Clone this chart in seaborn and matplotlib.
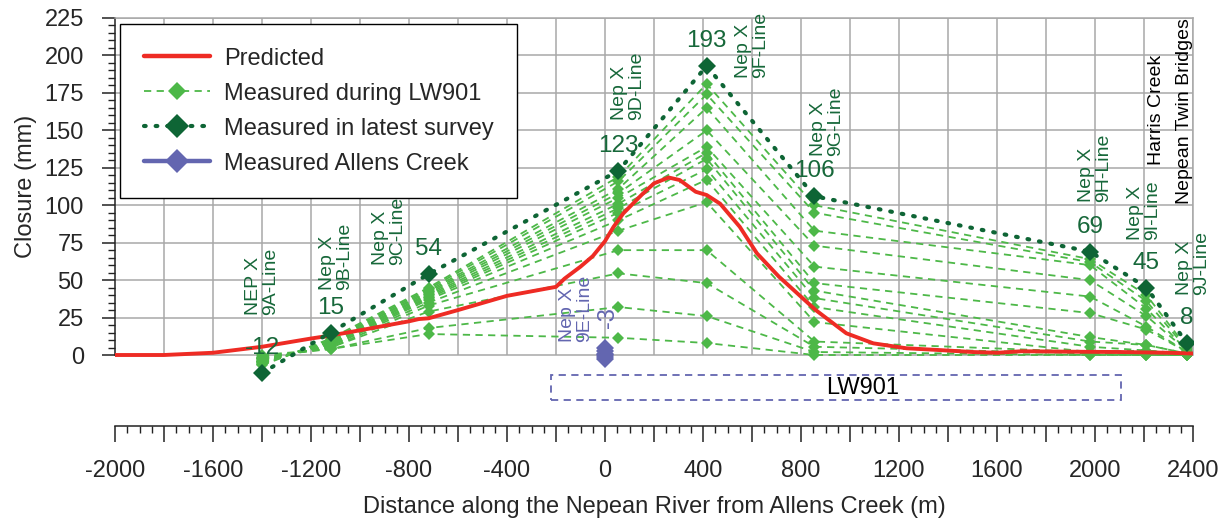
import matplotlib.pyplot as plt
import matplotlib.patches as mpatches
from matplotlib.lines import Line2D
import numpy as np
import pandas as pd
import seaborn as sns

# Survey stations along the Nepean River (m from Allens Creek)
stations = ['9A', '9B', '9C', '9D', '9F', '9G', '9H', '9I', '9J']
station_x = [-1400, -1120, -720, 55, 415, 855, 1980, 2210, 2375]

# Closure in the latest survey (mm)
latest = [-12, 15, 54, 123, 193, 106, 69, 45, 8]

# Closure measured during LW901, one row per survey (columns follow stations)
lw901_surveys = [
    [0, 4, 14, 11.5, 8, 0, 0, 0, 0],
    [-1, 4, 18, 32, 26, 2, 0, 0, 0],
    [-2, 5, 29, 54.5, 48, 5.5, 1, 0, 0],
    [-2, 5, 33, 70, 70, 9, 2, 1, 0],
    [-3, 6, 35, 83, 102, 22, 2, 3, 0],
    [-3, 6, 37, 90, 117, 32, 5.5, 3, 1],
    [-4, 7, 38, 95, 124, 38, 9, 6.7, 1],
    [-4, 7, 39, 98, 131, 43, 12, 6.7, 1],
    [-5, 8, 40, 101, 135, 48, 28, 17, 2],
    [-5, 8, 41, 105, 139, 59, 39, 19, 2],
    [-5, 9, 42, 108, 150, 73, 50, 26, 3],
    [-6, 9, 43, 111, 165, 83, 60, 31, 3],
    [-6, 10, 44, 116, 174, 95, 62, 36, 4],
    [-7, 11, 45, 119, 181, 100, 64, 40, 5],
]

# Allens Creek measurements
allens_x = [0, 0, 0, 0, 0, 0]
allens_y = [5, 3, 1, 0, -1, -3]

# Predicted closure profile
pred_x = [-2000, -1800, -1600, -1400, -1200, -1120, -1000, -800, -760, -720, -600,
          -400, -200, -165, -100, -50, 0, 35, 75, 150, 200, 260, 305, 370, 415,
          470, 550, 620, 710, 860, 985, 1095, 1230, 1365, 1500, 1600, 1700, 1900,
          2100, 2300, 2400]
pred_y = [0, 0, 1.5, 5.5, 11, 13, 16.5, 22.5, 24, 24.5, 30,
          39.5, 45.5, 51, 59, 66, 76, 85.6, 94.6, 107, 114.6, 118.5, 116.8, 109, 106.8,
          101, 85.6, 67.9, 52.3, 30, 14.5, 7.8, 4.5, 3.3, 2, 1.5, 2.5, 2.2,
          2, 1.5, 1]

# Station annotation texts
station_text = ['NEP X\n9A-Line', 'Nep X\n9B-Line', 'Nep X\n9C-Line', 'Nep X\n9D-Line',
                'Nep X\n9F-Line', 'Nep X\n9G-Line', 'Nep X\n9H-Line', 'Nep X\n9I-Line',
                'Nep X\n9J-Line']
station_text_pos = [(-1400, 26.7), (-1098, 43.4), (-882, 60), (94, 157), (600, 185),
                    (906, 133), (2000, 102), (2200, 77), (2400, 40)]

RED = '#EE2B24'
LIGHT = '#4DB848'
DARK = '#0E6535'
PURPLE = '#6366B0'
TXT_GREEN = '#17683A'
GRID = '#A8A8A8'

sns.set_style('white')
plt.rcParams['font.family'] = ['Liberation Sans', 'DejaVu Sans']

fig = plt.figure(figsize=(12.28, 5.22), dpi=100)
ax = fig.add_axes([115 / 1228, 96 / 522, 1078 / 1228, 408 / 522])
ax.set_xlim(-2000, 2400)
ax.set_ylim(-47.4, 225)

# grid only inside the 0..225 band
ax.hlines(np.arange(0, 226, 25), -2000, 2400, color=GRID, lw=1.1, zorder=0)
ax.vlines(np.arange(-1800, 2401, 200), 0, 225, color=GRID, lw=1.1, zorder=0)

# measured during LW901
rows = []
for i, vals in enumerate(lw901_surveys):
    for sx, v in zip(station_x, vals):
        rows.append({'survey': i, 'distance': sx, 'closure': v})
df_lw = pd.DataFrame(rows)
sns.lineplot(data=df_lw, x='distance', y='closure', units='survey', estimator=None,
             sort=False, color=LIGHT, lw=1.3, linestyle=(0, (4, 3)), marker='D',
             markersize=6.5, markeredgewidth=0, legend=False, ax=ax, zorder=2)

# predicted
sns.lineplot(x=pred_x, y=pred_y, color=RED, lw=2.8, sort=False, estimator=None,
             ax=ax, zorder=3)

# latest survey
sns.lineplot(x=station_x, y=latest, color=DARK, lw=3, sort=False, estimator=None,
             linestyle=(0, (0.4, 2.4)), dash_capstyle='round', marker='D',
             markersize=9.5, markeredgewidth=0, ax=ax, zorder=4)

# Allens Creek
sns.lineplot(x=allens_x, y=allens_y, color=PURPLE, lw=3, sort=False, estimator=None,
             marker='D', markersize=9, markeredgewidth=0, ax=ax, zorder=4)

# value labels for the latest survey
for sx, v in zip(station_x, latest):
    ax.annotate(f'{v:g}', (sx, v), xytext=(0, 18), textcoords='offset points',
                ha='center', va='center', fontsize=17.5, color=TXT_GREEN, zorder=6)
ax.annotate(f'{allens_y[-1]:g}', (allens_x[-1], allens_y[-1]), xytext=(2, 30),
            textcoords='offset points', rotation=90, ha='center', va='center',
            fontsize=17, color=PURPLE, zorder=6)

# station labels
for txt, (tx, ty) in zip(station_text, station_text_pos):
    ax.text(tx, ty, txt, rotation=90, ha='center', va='bottom', multialignment='left',
            linespacing=1.0, fontsize=14, color=TXT_GREEN, zorder=6)
ax.text(-118, 8.7, 'Nep X\n9E-Line', rotation=90, ha='center', va='bottom',
        multialignment='left', linespacing=1.0, fontsize=14, color=PURPLE, zorder=6)
ax.text(2253, 127, 'Harris Creek', rotation=90, ha='center', va='bottom',
        fontsize=14, color='black', zorder=6)
ax.text(2367, 101, 'Nepean Twin Bridges', rotation=90, ha='center', va='bottom',
        fontsize=14, color='black', zorder=6)

# LW901 panel extent
ax.add_patch(mpatches.Rectangle((-220, -30), 2325, 16.6, fill=False, edgecolor=PURPLE,
                                lw=1.3, linestyle=(0, (4, 3)), zorder=1))
ax.text(1050, -22, 'LW901', ha='center', va='center', fontsize=17, color='black')

# axes styling
ax.spines['left'].set_bounds(0, 225)
ax.spines['right'].set_bounds(0, 225)
ax.spines['right'].set_color(GRID)
ax.spines['top'].set_color(GRID)
ax.spines['left'].set_color('#222222')
ax.spines['bottom'].set_color('#222222')
for s in ax.spines.values():
    s.set_linewidth(1.1)

ax.set_yticks(np.arange(0, 226, 25))
ax.set_yticks(np.arange(0, 226, 5), minor=True)
xt = np.arange(-2000, 2401, 200)
ax.set_xticks(xt)
ax.set_xticklabels([f'{v:d}' if v % 400 == 0 else '' for v in xt])
ax.set_xticks(np.arange(-2000, 2401, 50), minor=True)
ax.tick_params(axis='both', which='major', direction='out', labelsize=17, pad=13,
               color='#222222', width=1.1)
ax.tick_params(axis='y', which='major', length=9.5)
ax.tick_params(axis='x', which='major', length=11.5)
ax.tick_params(axis='both', which='minor', direction='out', length=5, width=1,
               color='#222222')
ax.tick_params(left=True, bottom=True, which='both')

ax.set_xlabel('Distance along the Nepean River from Allens Creek (m)', fontsize=17,
              labelpad=10)
ax.set_ylabel('Closure (mm)', fontsize=17)
ax.yaxis.set_label_coords(-0.072, 0.588)

# legend
handles = [
    Line2D([], [], color=RED, lw=3.2),
    Line2D([], [], color=LIGHT, lw=1.3, linestyle=(0, (4, 3)), marker='D',
           markersize=9, markeredgewidth=0),
    Line2D([], [], color=DARK, lw=3, linestyle=(0, (0.4, 2.4)), dash_capstyle='round',
           marker='D', markersize=12, markeredgewidth=0),
    Line2D([], [], color=PURPLE, lw=3.2, marker='D', markersize=12, markeredgewidth=0),
]
labels = ['Predicted', 'Measured during LW901', 'Measured in latest survey',
          'Measured Allens Creek']
leg = ax.legend(handles, labels, loc='upper left', bbox_to_anchor=(0.0046, 0.985),
                fontsize=17, frameon=True, fancybox=False, edgecolor='black',
                framealpha=1, handlelength=2.8, handletextpad=0.6, labelspacing=0.55,
                borderpad=1.0, borderaxespad=0)
leg.get_frame().set_linewidth(1.0)
leg.set_zorder(10)

fig.savefig('out.png', dpi=100)
